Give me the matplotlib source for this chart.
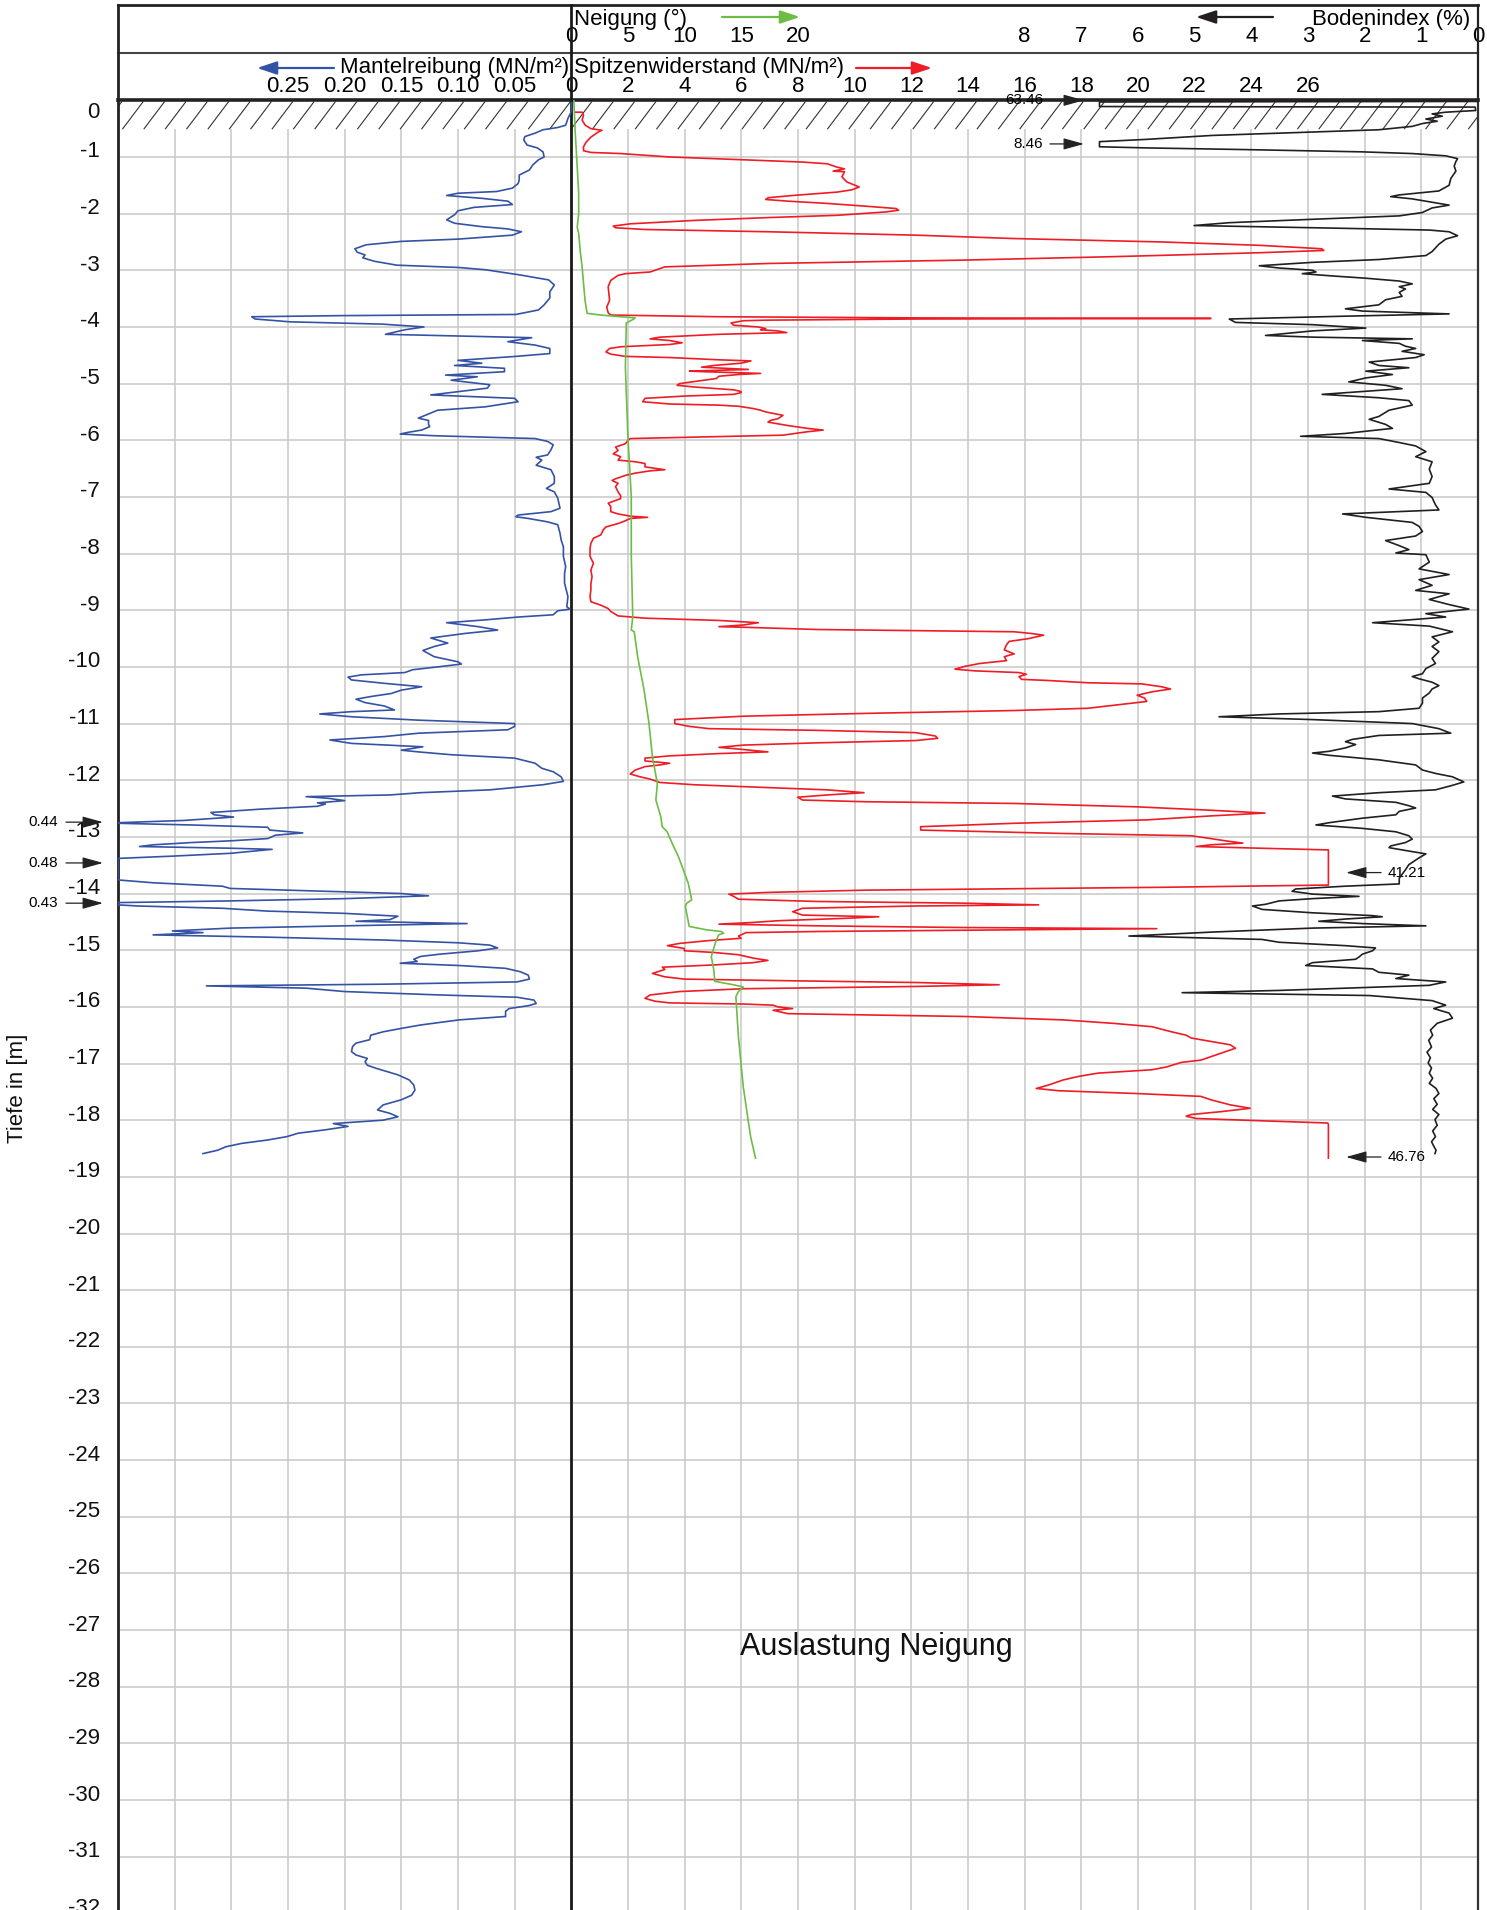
import numpy as np
import matplotlib
matplotlib.use("Agg")
import matplotlib.pyplot as plt
from matplotlib import transforms
from matplotlib.lines import Line2D
from matplotlib.collections import LineCollection

plt.rcParams['font.family'] = ['Liberation Sans', 'DejaVu Sans']

# ---- data (depth in m, positive downwards) ----
fs_depth = [0.00, 0.20, 0.32, 0.44, 0.48, 0.52, 0.58, 0.64, 0.70, 0.79, 0.84, 0.91, 1.00, 1.05, 1.14,
            1.23, 1.32, 1.41, 1.47, 1.55, 1.61, 1.64, 1.68, 1.73, 1.78, 1.84, 1.89, 1.95, 2.02, 2.11,
            2.17, 2.23, 2.27, 2.32, 2.38, 2.45, 2.49, 2.55, 2.62, 2.68, 2.73, 2.78, 2.84, 2.91, 2.95,
            2.99, 3.08, 3.17, 3.26, 3.38, 3.49, 3.61, 3.70, 3.78, 3.80, 3.82, 3.86, 3.91, 3.95, 4.00,
            4.05, 4.13, 4.19, 4.26, 4.32, 4.38, 4.47, 4.52, 4.59, 4.64, 4.68, 4.73, 4.79, 4.85, 4.88,
            4.94, 5.02, 5.08, 5.20, 5.26, 5.32, 5.41, 5.47, 5.52, 5.61, 5.65, 5.72, 5.76, 5.82, 5.86,
            5.89, 5.92, 5.97, 6.02, 6.08, 6.17, 6.26, 6.30, 6.35, 6.44, 6.52, 6.64, 6.76, 6.85, 6.91,
            7.02, 7.20, 7.26, 7.32, 7.35, 7.38, 7.44, 7.49, 7.64, 7.76, 7.88, 8.05, 8.23, 8.35, 8.52,
            8.76, 8.94, 8.98, 9.01, 9.08, 9.12, 9.17, 9.22, 9.29, 9.35, 9.41, 9.49, 9.58, 9.64, 9.71,
            9.82, 9.91, 9.95, 10.00, 10.05, 10.10, 10.14, 10.18, 10.23, 10.29, 10.35, 10.41, 10.47,
            10.52, 10.57, 10.63, 10.69, 10.76, 10.79, 10.83, 10.88, 10.94, 11.00, 11.05, 11.11, 11.17,
            11.23, 11.29, 11.35, 11.41, 11.47, 11.50, 11.55, 11.61, 11.70, 11.79, 11.85, 11.94, 12.02,
            12.08, 12.17, 12.22, 12.26, 12.29, 12.32, 12.36, 12.40, 12.42, 12.46, 12.51, 12.57, 12.61,
            12.65, 12.71, 12.75, 12.76, 12.79, 12.83, 12.88, 12.93, 12.97, 13.03, 13.07, 13.10, 13.14,
            13.17, 13.20, 13.22, 13.26, 13.29, 13.34, 13.38, 13.76, 13.81, 13.87, 13.91, 13.95, 14.00,
            14.04, 14.09, 14.13, 14.16, 14.20, 14.22, 14.26, 14.31, 14.35, 14.40, 14.46, 14.49, 14.53,
            14.57, 14.61, 14.66, 14.69, 14.73, 14.77, 14.82, 14.87, 14.91, 14.96, 15.01, 15.07, 15.11,
            15.16, 15.20, 15.23, 15.27, 15.32, 15.38, 15.44, 15.51, 15.56, 15.60, 15.63, 15.67, 15.73,
            15.79, 15.83, 15.88, 15.94, 15.98, 16.03, 16.08, 16.17, 16.23, 16.32, 16.38, 16.44, 16.50,
            16.58, 16.64, 16.70, 16.79, 16.85, 16.91, 16.97, 17.03, 17.08, 17.14, 17.20, 17.29, 17.38,
            17.47, 17.56, 17.64, 17.73, 17.82, 17.88, 17.94, 18.00, 18.06, 18.11, 18.17, 18.23, 18.29,
            18.35, 18.41, 18.47, 18.53, 18.59]
fs_val = [0.000, 0.000, 0.003, 0.005, 0.012, 0.025, 0.032, 0.041, 0.042, 0.039, 0.030, 0.025, 0.024, 0.029, 0.034,
          0.037, 0.046, 0.046, 0.047, 0.052, 0.066, 0.100, 0.110, 0.079, 0.056, 0.052, 0.086, 0.100, 0.103, 0.110,
          0.103, 0.079, 0.056, 0.044, 0.052, 0.100, 0.150, 0.181, 0.191, 0.189, 0.182, 0.184, 0.174, 0.154, 0.100,
          0.076, 0.046, 0.020, 0.015, 0.019, 0.019, 0.024, 0.029, 0.049, 0.201, 0.282, 0.279, 0.248, 0.167, 0.130,
          0.147, 0.164, 0.035, 0.056, 0.032, 0.019, 0.019, 0.049, 0.100, 0.079, 0.103, 0.059, 0.059, 0.111, 0.083,
          0.106, 0.072, 0.074, 0.124, 0.050, 0.047, 0.076, 0.118, 0.124, 0.135, 0.126, 0.126, 0.125, 0.132, 0.144,
          0.151, 0.121, 0.032, 0.021, 0.016, 0.018, 0.021, 0.031, 0.026, 0.031, 0.018, 0.015, 0.015, 0.022, 0.015,
          0.012, 0.010, 0.018, 0.047, 0.049, 0.038, 0.021, 0.012, 0.010, 0.009, 0.007, 0.007, 0.005, 0.006, 0.006,
          0.003, 0.004, 0.001, 0.012, 0.016, 0.047, 0.076, 0.110, 0.082, 0.065, 0.094, 0.124, 0.109, 0.121, 0.131,
          0.121, 0.100, 0.097, 0.118, 0.140, 0.147, 0.185, 0.197, 0.194, 0.165, 0.132, 0.150, 0.159,
          0.176, 0.190, 0.182, 0.165, 0.156, 0.194, 0.222, 0.194, 0.135, 0.050, 0.050, 0.056, 0.135,
          0.165, 0.213, 0.194, 0.131, 0.150, 0.135, 0.106, 0.050, 0.032, 0.026, 0.016, 0.009, 0.007,
          0.025, 0.072, 0.133, 0.160, 0.234, 0.214, 0.200, 0.224, 0.217, 0.224, 0.274, 0.318, 0.315,
          0.298, 0.342, 0.440, 0.440, 0.335, 0.268, 0.266, 0.237, 0.261, 0.268, 0.301, 0.335, 0.369,
          0.381, 0.301, 0.264, 0.285, 0.301, 0.352, 0.480, 0.480, 0.369, 0.308, 0.301, 0.234, 0.150,
          0.126, 0.200, 0.301, 0.430, 0.430, 0.382, 0.308, 0.268, 0.200, 0.153, 0.160, 0.190, 0.092,
          0.200, 0.301, 0.352, 0.325, 0.369, 0.268, 0.166, 0.099, 0.072, 0.065, 0.082, 0.116, 0.133,
          0.139, 0.136, 0.151, 0.099, 0.058, 0.045, 0.038, 0.037, 0.048, 0.166, 0.322, 0.234, 0.200,
          0.116, 0.048, 0.033, 0.031, 0.038, 0.055, 0.058, 0.058, 0.099, 0.133, 0.150, 0.166, 0.177,
          0.178, 0.190, 0.193, 0.194, 0.190, 0.180, 0.182, 0.180, 0.173, 0.163, 0.153, 0.143, 0.139,
          0.138, 0.141, 0.150, 0.166, 0.171, 0.160, 0.153, 0.166, 0.210, 0.197, 0.217, 0.241, 0.251,
          0.268, 0.291, 0.305, 0.312, 0.325]

qc_depth = [0.21, 0.21, 0.26, 0.35, 0.44, 0.50, 0.53, 0.56, 0.65, 0.74, 0.82, 0.89, 0.92, 0.94, 1.00,
            1.05, 1.09, 1.12, 1.18, 1.21, 1.25, 1.26, 1.35, 1.44, 1.53, 1.58, 1.62, 1.68, 1.72, 1.75,
            1.78, 1.82, 1.87, 1.91, 1.94, 1.97, 2.03, 2.07, 2.12, 2.18, 2.22, 2.25, 2.28, 2.32, 2.38,
            2.44, 2.50, 2.56, 2.62, 2.65, 2.69, 2.76, 2.82, 2.88, 2.94, 2.97, 3.03, 3.06, 3.09, 3.18,
            3.29, 3.53, 3.65, 3.75, 3.79, 3.82, 3.84, 3.85, 3.86, 3.88, 3.89, 3.93, 3.97, 4.00, 4.03,
            4.05, 4.07, 4.10, 4.13, 4.18, 4.21, 4.24, 4.28, 4.31, 4.35, 4.38, 4.44, 4.48, 4.52, 4.54,
            4.58, 4.60, 4.64, 4.68, 4.71, 4.74, 4.75, 4.78, 4.79, 4.82, 4.84, 4.87, 4.91, 4.94, 5.00,
            5.03, 5.06, 5.11, 5.14, 5.16, 5.19, 5.22, 5.26, 5.32, 5.36, 5.38, 5.40, 5.44, 5.47, 5.50,
            5.56, 5.62, 5.65, 5.68, 5.74, 5.79, 5.82, 5.85, 5.91, 5.97, 6.00, 6.06, 6.12, 6.18, 6.24,
            6.29, 6.35, 6.38, 6.41, 6.47, 6.52, 6.54, 6.58, 6.62, 6.68, 6.71, 6.76, 6.82, 6.91, 6.98,
            7.03, 7.11, 7.17, 7.26, 7.30, 7.34, 7.36, 7.38, 7.42, 7.47, 7.53, 7.58, 7.67, 7.73, 7.82,
            7.91, 8.05, 8.17, 8.29, 8.41, 8.53, 8.64, 8.76, 8.85, 8.91, 8.97, 9.02, 9.10, 9.14, 9.18,
            9.22, 9.26, 9.29, 9.30, 9.34, 9.36, 9.38, 9.41, 9.44, 9.50, 9.55, 9.61, 9.70, 9.77, 9.82,
            9.89, 9.94, 9.99, 10.04, 10.07, 10.10, 10.13, 10.17, 10.22, 10.24, 10.28, 10.30, 10.35,
            10.39, 10.44, 10.50, 10.55, 10.61, 10.67, 10.73, 10.77, 10.82, 10.87, 10.93, 11.00, 11.05,
            11.09, 11.12, 11.16, 11.22, 11.26, 11.30, 11.34, 11.38, 11.42, 11.45, 11.50, 11.53, 11.57,
            11.61, 11.66, 11.70, 11.73, 11.76, 11.82, 11.89, 11.94, 11.98, 12.04, 12.08, 12.13, 12.17,
            12.22, 12.26, 12.30, 12.35, 12.38, 12.41, 12.47, 12.53, 12.58, 12.63, 12.70, 12.76, 12.82,
            12.88, 12.94, 12.98, 13.03, 13.07, 13.11, 13.14, 13.17, 13.20, 13.23, 13.85, 13.89, 13.94,
            13.98, 14.01, 14.05, 14.10, 14.14, 14.17, 14.20, 14.22, 14.26, 14.32, 14.35, 14.38, 14.41,
            14.44, 14.48, 14.51, 14.54, 14.57, 14.60, 14.62, 14.64, 14.67, 14.69, 14.71, 14.75, 14.79,
            14.83, 14.88, 14.92, 14.97, 15.01, 15.04, 15.08, 15.14, 15.18, 15.22, 15.26, 15.30, 15.34,
            15.41, 15.47, 15.51, 15.54, 15.57, 15.61, 15.64, 15.68, 15.73, 15.79, 15.85, 15.90, 15.93,
            15.95, 15.97, 16.00, 16.03, 16.06, 16.08, 16.12, 16.17, 16.23, 16.29, 16.35, 16.44, 16.50,
            16.55, 16.61, 16.67, 16.73, 16.79, 16.88, 16.94, 16.98, 17.06, 17.11, 17.17, 17.23, 17.29,
            17.38, 17.44, 17.48, 17.53, 17.58, 17.64, 17.73, 17.79, 17.85, 17.90, 17.93, 17.97, 18.01,
            18.05, 18.08, 18.67]
qc_val = [0.14, 0.38, 0.43, 0.38, 0.49, 0.69, 1.08, 0.95, 0.69, 0.52, 0.43, 0.43, 0.69, 1.74, 3.47,
          6.08, 8.16, 9.03, 9.38, 9.64, 9.24, 9.64, 9.55, 9.72, 10.16, 9.90, 9.38, 7.81, 6.94, 6.86,
          7.64, 9.03, 10.42, 11.46, 11.55, 11.11, 9.38, 6.94, 4.34, 2.08, 1.48, 1.56, 2.60, 6.94, 12.15,
          15.63, 20.83, 24.31, 26.48, 26.56, 24.31, 19.10, 13.89, 6.94, 3.30, 3.13, 2.78, 1.91, 1.65, 1.39,
          1.30, 1.35, 1.25, 1.30, 1.39, 5.21, 12.15, 22.57, 12.15, 6.94, 6.08, 5.64, 5.73, 6.60, 6.86,
          6.68, 7.29, 7.60, 5.21, 3.13, 2.78, 3.47, 3.91, 3.47, 1.74, 1.35, 1.22, 1.39, 1.91, 3.47,
          5.21, 6.34, 5.99, 5.03, 4.60, 5.90, 6.25, 4.17, 4.69, 6.68, 5.90, 5.21, 5.12, 4.69, 3.82,
          3.73, 4.34, 5.73, 5.99, 5.99, 5.73, 3.99, 2.60, 2.52, 3.47, 5.21, 5.90, 6.42, 6.68, 6.86,
          7.47, 7.29, 7.03, 6.94, 7.64, 8.33, 8.89, 8.33, 7.47, 2.08, 2.00, 1.91, 1.56, 1.65, 1.48,
          1.74, 1.65, 2.26, 2.60, 2.60, 3.30, 2.78, 2.26, 1.91, 1.56, 1.44, 1.65, 1.56, 1.65, 1.74,
          1.74, 1.30, 1.39, 1.39, 1.65, 2.08, 2.69, 2.08, 1.91, 1.65, 1.22, 1.13, 1.04, 0.78, 0.69,
          0.66, 0.66, 0.78, 0.69, 0.73, 0.69, 0.69, 0.66, 0.69, 1.04, 1.30, 1.39, 1.65, 2.60, 5.21,
          6.60, 6.08, 5.21, 6.08, 8.68, 12.15, 15.63, 16.23, 16.67, 16.15, 15.45, 15.36, 15.28, 15.63, 15.28,
          15.36, 14.41, 13.89, 13.54, 14.24, 15.80, 16.06, 15.80, 15.89, 16.84, 18.23, 20.14, 20.83,
          21.15, 20.49, 19.97, 20.23, 20.31, 19.27, 18.23, 15.63, 10.42, 6.08, 3.65, 3.65, 4.17,
          4.86, 8.68, 12.15, 12.85, 12.93, 12.15, 8.68, 6.08, 5.21, 5.90, 6.94, 5.21, 3.47,
          2.60, 2.60, 3.47, 3.13, 2.60, 2.26, 2.08, 2.43, 2.78, 3.13, 4.34, 6.94, 9.03,
          10.33, 9.03, 7.99, 8.16, 10.42, 15.63, 19.97, 22.57, 24.48, 22.57, 20.31, 15.63, 12.33,
          12.33, 17.36, 21.88, 22.57, 23.09, 23.70, 22.57, 22.05, 24.31, 41.21, 41.21, 20.83, 10.42,
          6.94, 5.56, 5.73, 5.90, 8.68, 13.89, 16.49, 12.15, 8.16, 7.81, 7.99, 8.16, 10.85,
          9.55, 7.29, 6.42, 5.21, 8.68, 13.89, 20.66, 15.63, 8.68, 6.16, 6.08, 5.90, 5.99,
          4.86, 3.82, 3.39, 3.99, 3.99, 5.03, 5.90, 6.42, 6.94, 6.42, 5.03, 3.21, 3.30,
          2.86, 3.30, 3.99, 7.81, 12.15, 15.10, 12.15, 6.08, 3.82, 2.78, 2.60, 2.95, 3.47,
          6.08, 7.12, 7.29, 7.81, 7.12, 7.29, 7.64, 13.89, 17.36, 19.10, 20.49, 21.18, 21.70,
          21.88, 22.57, 23.26, 23.44, 23.09, 22.57, 22.22, 21.53, 21.01, 20.49, 18.58, 17.88, 17.36,
          16.84, 16.41, 17.19, 19.97, 22.22, 22.57, 23.26, 23.96, 22.92, 21.88, 21.70, 22.05, 24.31,
          26.70, 46.76, 46.76]

incl_depth = [0.00, 0.59, 1.18, 1.65, 2.00, 2.24, 2.35, 2.65, 2.94, 3.24, 3.53, 3.76, 3.79, 3.82, 3.84,
              3.87, 3.93, 4.71, 5.88, 7.00, 8.05, 9.11, 9.35, 9.38, 9.82, 10.41, 10.99, 11.58, 12.06,
              12.35, 12.64, 12.82, 12.91, 13.11, 13.35, 13.75, 13.82, 14.11, 14.17, 14.23, 14.58, 14.64,
              14.67, 14.70, 14.73, 14.82, 15.11, 15.35, 15.55, 15.61, 15.65, 15.73, 15.82, 16.52, 17.41,
              18.00, 18.29, 18.67]
incl_val = [0.22, 0.35, 0.52, 0.65, 0.65, 0.52, 0.65, 0.78, 0.95, 1.08, 1.21, 1.39, 2.60, 4.33, 5.64,
            5.42, 4.85, 4.77, 4.98, 5.29, 5.29, 5.42, 5.29, 5.55, 5.85, 6.42, 6.85, 7.15, 7.59,
            7.46, 7.89, 8.02, 8.45, 8.89, 9.45, 10.19, 10.32, 10.62, 10.19, 10.06, 10.40, 11.92,
            13.22, 13.44, 13.00, 12.79, 12.35, 12.57, 12.66, 14.30, 15.17, 14.74, 14.52, 14.74, 15.17,
            15.60, 15.82, 16.25]

bi_depth = [0.02, 0.03, 0.11, 0.12, 0.18, 0.21, 0.24, 0.28, 0.33, 0.37, 0.41, 0.46, 0.52, 0.56, 0.62,
            0.69, 0.73, 0.82, 0.84, 0.87, 0.91, 0.94, 0.98, 1.03, 1.08, 1.16, 1.25, 1.38, 1.50, 1.60,
            1.67, 1.70, 1.74, 1.79, 1.85, 1.90, 1.98, 2.04, 2.10, 2.16, 2.21, 2.26, 2.29, 2.32, 2.39,
            2.45, 2.54, 2.67, 2.74, 2.81, 2.86, 2.92, 2.96, 3.00, 3.03, 3.06, 3.10, 3.14, 3.19, 3.24,
            3.29, 3.33, 3.39, 3.46, 3.52, 3.61, 3.68, 3.72, 3.77, 3.81, 3.86, 3.92, 3.96, 4.02, 4.07,
            4.15, 4.18, 4.21, 4.24, 4.29, 4.34, 4.38, 4.43, 4.49, 4.54, 4.62, 4.68, 4.72, 4.78, 4.84,
            4.90, 4.97, 5.03, 5.09, 5.19, 5.25, 5.30, 5.38, 5.47, 5.58, 5.63, 5.72, 5.79, 5.88, 5.93,
            5.97, 6.04, 6.10, 6.20, 6.29, 6.38, 6.51, 6.64, 6.76, 6.86, 6.92, 7.01, 7.14, 7.23, 7.30,
            7.36, 7.45, 7.52, 7.61, 7.69, 7.77, 7.86, 7.93, 7.99, 8.02, 8.15, 8.27, 8.37, 8.46, 8.56,
            8.65, 8.71, 8.81, 8.90, 8.98, 9.06, 9.12, 9.22, 9.28, 9.38, 9.47, 9.56, 9.64, 9.73, 9.85,
            9.94, 10.03, 10.12, 10.17, 10.21, 10.27, 10.33, 10.39, 10.46, 10.55, 10.64, 10.73, 10.79,
            10.83, 10.88, 10.93, 11.00, 11.09, 11.17, 11.21, 11.28, 11.32, 11.37, 11.43, 11.49, 11.52,
            11.56, 11.64, 11.73, 11.82, 11.88, 11.94, 12.03, 12.09, 12.17, 12.22, 12.28, 12.33, 12.39,
            12.45, 12.49, 12.55, 12.61, 12.67, 12.75, 12.79, 12.85, 12.91, 12.98, 13.04, 13.10, 13.16,
            13.19, 13.24, 13.30, 13.37, 13.49, 13.58, 13.73, 13.83, 13.87, 13.92, 13.96, 14.01, 14.05,
            14.09, 14.13, 14.19, 14.22, 14.28, 14.34, 14.39, 14.41, 14.45, 14.49, 14.53, 14.57, 14.61,
            14.68, 14.75, 14.78, 14.81, 14.86, 14.92, 14.96, 15.01, 15.07, 15.12, 15.16, 15.22, 15.27,
            15.33, 15.39, 15.44, 15.50, 15.56, 15.62, 15.71, 15.75, 15.80, 15.89, 15.97, 16.03, 16.11,
            16.20, 16.29, 16.41, 16.50, 16.59, 16.71, 16.80, 16.90, 16.99, 17.08, 17.17, 17.26, 17.35,
            17.44, 17.53, 17.62, 17.72, 17.81, 17.90, 17.99, 18.09, 18.19, 18.29, 18.38, 18.46, 18.53,
            18.59]
bi_val = [0.02, 63.46, 63.46, 0.05, 0.04, 0.57, 0.81, 0.63, 0.92, 0.72, 0.98, 1.16, 1.75, 2.92, 4.69,
          5.86, 8.46, 8.46, 5.86, 4.10, 2.04, 1.16, 0.57, 0.36, 0.39, 0.42, 0.39, 0.48, 0.51, 0.69,
          1.39, 1.54, 1.16, 0.86, 0.51, 0.81, 0.98, 1.39, 2.92, 4.39, 5.01, 2.34, 0.86, 0.51, 0.36,
          0.57, 0.69, 0.81, 0.92, 1.75, 2.92, 3.86, 3.51, 2.92, 2.86, 3.10, 2.57, 1.98, 1.39, 1.16,
          1.39, 1.28, 1.39, 1.34, 1.63, 1.75, 2.34, 2.04, 0.51, 2.34, 4.39, 4.28, 2.92, 1.98, 2.92,
          3.75, 2.92, 1.16, 2.04, 1.39, 1.28, 1.10, 1.34, 0.95, 1.10, 1.92, 1.75, 1.22, 1.98, 1.51,
          1.98, 2.28, 1.63, 1.34, 2.75, 1.75, 1.22, 1.16, 1.57, 1.75, 1.92, 1.63, 1.51, 2.34, 3.13,
          1.75, 1.39, 1.10, 0.92, 1.10, 0.81, 0.86, 0.81, 0.86, 1.57, 0.92, 0.81, 0.75, 0.69, 2.39,
          1.98, 1.16, 1.04, 0.98, 1.10, 1.63, 1.39, 1.22, 1.45, 0.92, 0.86, 1.04, 0.51, 1.04, 0.81,
          1.10, 0.51, 0.86, 0.51, 0.16, 0.92, 0.57, 1.86, 0.86, 0.45, 0.81, 0.69, 0.81, 0.69, 0.81,
          0.75, 0.92, 0.98, 1.16, 1.04, 0.81, 0.69, 0.81, 0.86, 0.98, 0.98, 1.04, 1.75,
          3.51, 4.57, 2.92, 1.16, 0.69, 0.48, 1.75, 2.22, 2.34, 2.16, 2.34, 2.63, 2.92,
          2.63, 1.75, 1.10, 0.98, 0.75, 0.45, 0.25, 0.45, 0.75, 1.75, 2.57, 2.34, 1.45,
          1.22, 1.10, 1.39, 1.45, 2.04, 2.63, 2.86, 2.04, 1.45, 1.22, 1.16, 1.28, 1.54,
          1.57, 1.28, 0.92, 1.04, 1.22, 1.28, 1.39, 1.39, 2.34, 3.22, 3.28, 2.92, 2.10,
          2.92, 3.51, 3.75, 3.98, 3.81, 2.92, 1.86, 1.69, 2.34, 2.81, 2.04, 0.92, 2.92,
          4.69, 6.16, 4.98, 3.81, 3.51, 2.34, 1.81, 1.86, 2.04, 2.10, 2.16, 2.92, 3.04,
          1.86, 1.75, 1.22, 1.45, 0.57, 0.86, 3.51, 5.22, 1.92, 0.81, 0.57, 0.78, 0.51,
          0.45, 0.72, 0.84, 0.80, 0.87, 0.82, 0.90, 0.84, 0.88, 0.82, 0.86, 0.80, 0.86,
          0.74, 0.69, 0.78, 0.72, 0.80, 0.69, 0.76, 0.72, 0.80, 0.75, 0.82, 0.78, 0.74,
          0.76]

depth_ticks = list(range(0, 33))
fs_ticks = [0.25, 0.20, 0.15, 0.10, 0.05]
qc_ticks = list(range(0, 27, 2))
incl_ticks = [0, 5, 10, 15, 20]
bi_ticks = [8, 7, 6, 5, 4, 3, 2, 1, 0]

# display limits of the log (values beyond are clipped and written as numbers)
FS_CAP, QC_CAP, BI_CAP = 0.40, 26.72, 6.68
fs_notes = [(12.74, 0.44), (13.46, 0.48), (14.17, 0.43)]
qc_notes = [(13.63, 41.21), (18.65, 46.76)]
bi_notes = [(0.0, 63.46), (0.77, 8.46)]

BLUE, RED, GREEN, BLACK = '#3553a4', '#ee1c25', '#6cbd45', '#231f20'
GRID = '#c8c8c8'

W, H = 1487, 1910
fig = plt.figure(figsize=(W / 100, H / 100), dpi=100)

X0, X1, XC, Y0 = 118, 1478, 571, 100.3
PX_M = 56.66
D_MAX = 33
ax = fig.add_axes([X0 / W, 1 - (Y0 + PX_M * D_MAX) / H, (X1 - X0) / W, PX_M * D_MAX / H])
ax.set_ylim(D_MAX, 0)
ax.set_xlim(-16, 32)          # Spitzenwiderstand scale
ax.set_xticks(np.arange(-16, 33, 2))
ax.set_yticks(np.arange(1, D_MAX))
ax.set_axisbelow(True)
ax.grid(True, color=GRID, lw=1.1)
ax.tick_params(length=0, labelbottom=False, labelleft=False)
for s in ['bottom']:
    ax.spines[s].set_visible(False)
ax.spines['left'].set_linewidth(2.0)
ax.spines['left'].set_color('#222222')
ax.spines['right'].set_linewidth(1.6)
ax.spines['right'].set_color('#333333')
ax.spines['top'].set_linewidth(2.6)
ax.spines['top'].set_color('#222222')

ax_fs = ax.twiny()
ax_fs.set_xlim(FS_CAP, -0.80)
ax_n = ax.twiny()
ax_n.set_xlim(-40, 80)
ax_b = ax.twiny()
ax_b.set_xlim(24, 0)
for a in (ax_fs, ax_n, ax_b):
    a.axis('off')

# ground hatching
ax.axhspan(0, 0.51, color='white', zorder=1.5, lw=0)
xs = np.arange(-16.6, 32.5, 0.754)
segs = [[(x, 0.51), (x + 0.74, 0.02)] for x in xs]
ax.add_collection(LineCollection(segs, colors='#333333', linewidths=0.8, zorder=1.6))

ax.axvline(0, color='#1a1a1a', lw=2.0, zorder=3)

# curves
ax.plot(np.minimum(qc_val, QC_CAP), qc_depth, color=RED, lw=1.2, zorder=4)
ax_fs.plot(np.minimum(fs_val, FS_CAP), fs_depth, color=BLUE, lw=1.2)
ax_n.plot(incl_val, incl_depth, color=GREEN, lw=1.2)
ax_b.plot(np.minimum(bi_val, BI_CAP), bi_depth, color=BLACK, lw=1.2)

# depth labels
fig_x = transforms.blended_transform_factory(fig.transFigure, ax.transData)
for d in depth_ticks:
    off = -12 if d == 0 else 5
    tr = fig_x + transforms.ScaledTranslation(0, off / 100, fig.dpi_scale_trans)
    ax.text(100 / W, d, '0' if d == 0 else '-%d' % d, transform=tr, ha='right', va='center',
            fontsize=16, color='#111111', clip_on=False)
fig.text(18 / W, 1 - 1088 / H, 'Tiefe in [m]', rotation=90, ha='center', va='center',
         fontsize=16, color='#111111')


# header
def fline(x0, x1, y0, y1, lw, color='#222222'):
    fig.add_artist(Line2D([x0 / W, x1 / W], [1 - y0 / H, 1 - y1 / H], lw=lw, color=color))


fline(X0, X1, 5, 5, 2.0)
fline(X0, X1, 53, 53, 1.5, '#444444')
fline(X0, X0, 5, 100, 2.0)
fline(X1, X1, 5, 100, 1.6)
fline(XC, XC, 5, 100, 2.0, '#1a1a1a')


def hy(py):
    return 1 - py / H


def htrans(a):
    return transforms.blended_transform_factory(a.transData, fig.transFigure)


for v in incl_ticks:
    ax.text(v, hy(37), str(v), transform=htrans(ax_n), ha='center', va='center', fontsize=16)
for v in bi_ticks:
    ax.text(v, hy(37), str(v), transform=htrans(ax_b), ha='center', va='center', fontsize=16)
for v in fs_ticks:
    ax.text(v, hy(86), '%.2f' % v, transform=htrans(ax_fs), ha='center', va='center', fontsize=16)
for v in qc_ticks:
    ax.text(v, hy(86), str(v), transform=htrans(ax), ha='center', va='center', fontsize=16)

fig.text(574 / W, hy(19), 'Neigung (°)', ha='left', va='center', fontsize=16)
fig.text(1470 / W, hy(19), 'Bodenindex (%)', ha='right', va='center', fontsize=16)
fig.text(569 / W, hy(67), 'Mantelreibung (MN/m²)', ha='right', va='center', fontsize=16)
fig.text(574 / W, hy(67), 'Spitzenwiderstand (MN/m²)', ha='left', va='center', fontsize=16)


def harrow(x_tail, x_tip, py, color):
    ax.annotate('', xy=(x_tip / W, hy(py)), xytext=(x_tail / W, hy(py)),
                xycoords=fig.transFigure, textcoords=fig.transFigure,
                arrowprops=dict(arrowstyle='-|>,head_length=0.6,head_width=0.2', color=color,
                                lw=1.6, mutation_scale=20, shrinkA=0, shrinkB=0))


harrow(722, 800, 17, GREEN)
harrow(1273, 1196, 17, BLACK)
harrow(334, 257, 68, BLUE)
harrow(856, 932, 68, RED)

# over-range values
small = dict(arrowstyle='-|>,head_length=0.9,head_width=0.25', color='#222222', lw=0.9,
             mutation_scale=14, shrinkA=0, shrinkB=0)
for d, v in fs_notes:
    ax.text(43 / W, d, '%.2f' % v, transform=fig_x, ha='center', va='center', fontsize=11,
            clip_on=False)
    ax.annotate('', xy=(103 / W, d), xytext=(66 / W, d), xycoords=fig_x, textcoords=fig_x,
                arrowprops=small)
for d, v in qc_notes:
    ax.text(1388 / W, d, '%.2f' % v, transform=fig_x, ha='left', va='center', fontsize=11,
            clip_on=False)
    ax.annotate('', xy=(1346 / W, d), xytext=(1381 / W, d), xycoords=fig_x, textcoords=fig_x,
                arrowprops=small)
for d, v in bi_notes:
    ax.text(1043 / W, d, '%.2f' % v, transform=fig_x, ha='right', va='center', fontsize=11,
            clip_on=False)
    ax.annotate('', xy=(1084 / W, d), xytext=(1050 / W, d), xycoords=fig_x, textcoords=fig_x,
                arrowprops=small)

fig.text(876 / W, hy(1647), 'Auslastung Neigung', ha='center', va='center', fontsize=22,
         color='#111111')

fig.savefig('out.png', dpi=100)
